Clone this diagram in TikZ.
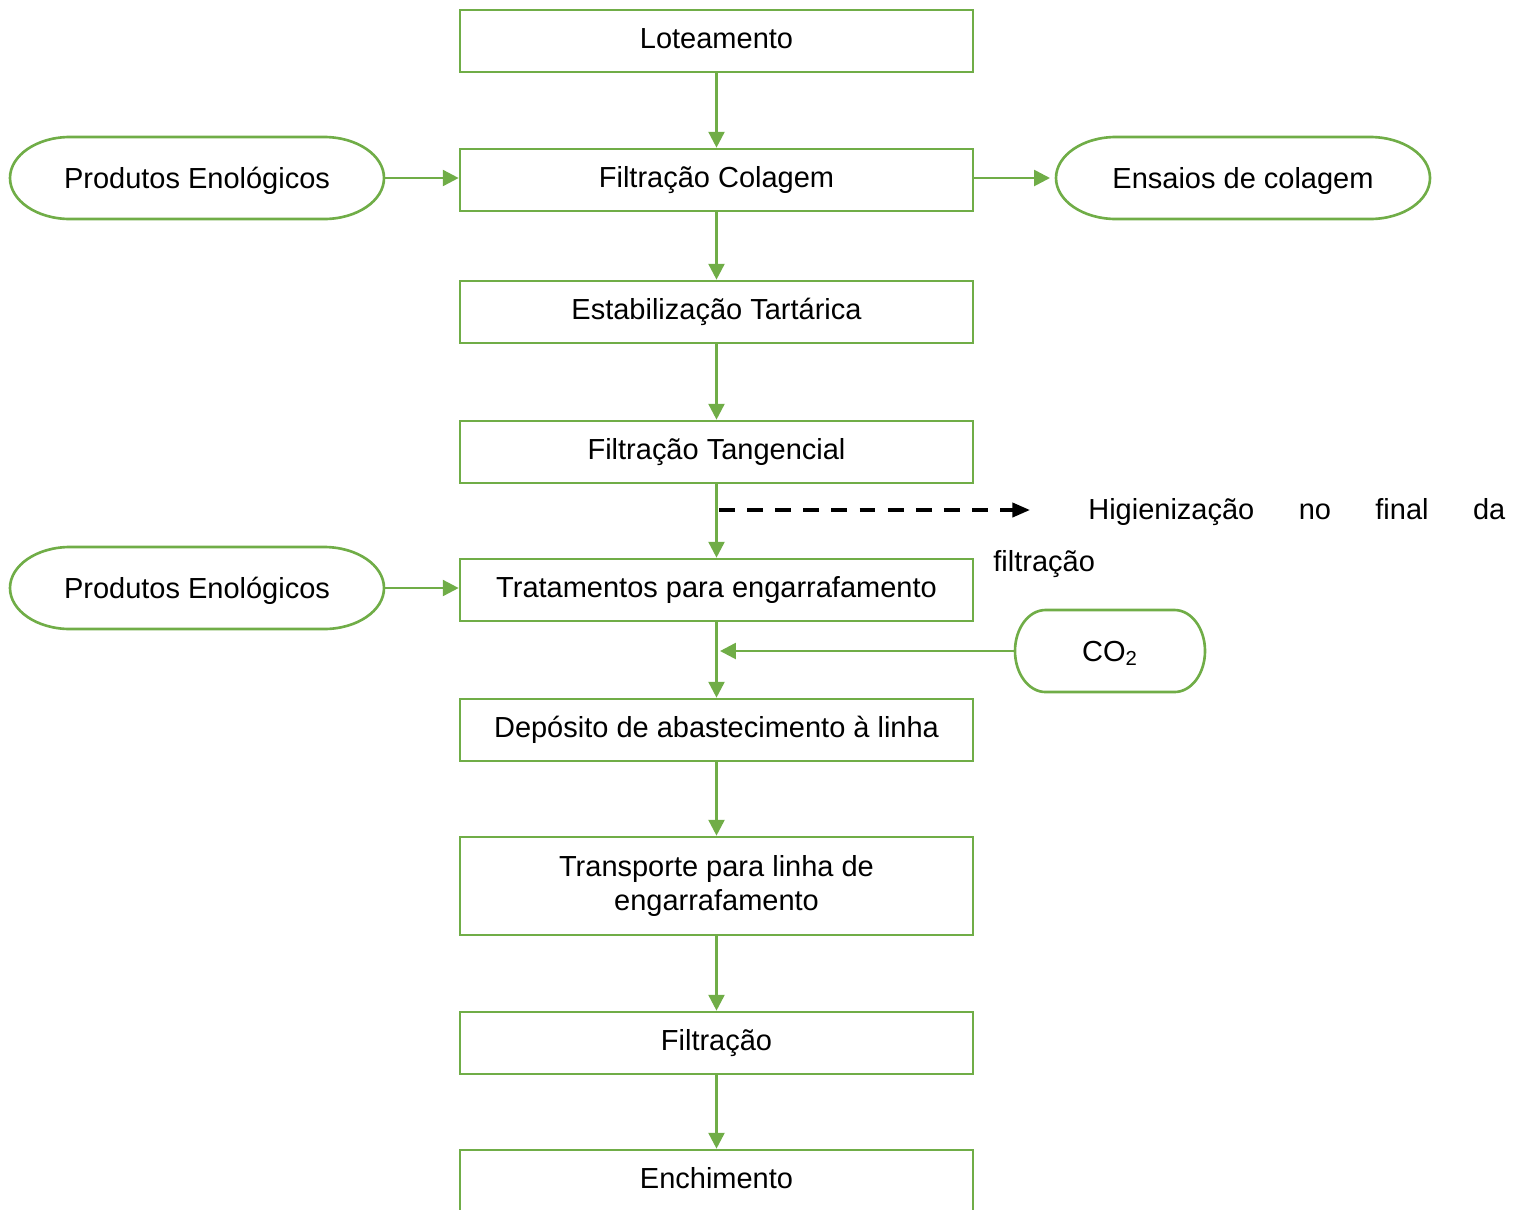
\documentclass[tikz,border=0pt]{standalone}
\usepackage{fontspec}
\setmainfont{Liberation Sans}
\usetikzlibrary{arrows.meta, positioning}
\definecolor{leafgreen}{HTML}{70AD47}

\begin{document}
\begin{tikzpicture}[>=Stealth,
    every node/.style={font=\fontsize{16.5}{19.3}\selectfont},
    procbox/.style={draw=leafgreen, line width=1.5pt, minimum width=10.26cm, minimum height=1.24cm, inner sep=0pt, text height=12pt, text depth=3.8pt},
    inbox/.style={minimum width=7.48cm, minimum height=1.64cm, inner sep=0pt, outer sep=0pt, text height=13.7pt, text depth=2.1pt},
    ovalline/.style={draw=leafgreen, line width=1.5pt, line join=round},
    flow/.style={draw=leafgreen, line width=1.5pt, -{Triangle[length=9pt, width=9pt]}}]
    \useasboundingbox (0,0) rectangle (30.52,-24.18);

    % main chain
    \node[procbox] (lote) at (14.33,-0.82) {Loteamento};
    \node[procbox] (colag) at (14.33,-3.6) {Filtração Colagem};
    \node[procbox] (estab) at (14.33,-6.24) {Estabilização Tartárica};
    \node[procbox] (tang) at (14.33,-9.04) {Filtração Tangencial};
    \node[procbox] (trat) at (14.33,-11.8) {Tratamentos para engarrafamento};
    \node[procbox] (depo) at (14.33,-14.6) {Depósito de abastecimento à linha};
    \node[draw=leafgreen, line width=1.5pt, minimum width=10.26cm, minimum height=1.96cm, inner sep=0pt, align=center] (transp) at (14.33,-17.72) {Transporte para linha de\\engarrafamento};
    \node[procbox] (filt) at (14.33,-20.86) {Filtração};
    \node[procbox] (ench) at (14.33,-23.62) {Enchimento};

    % side inputs and outputs
    \node[inbox] (enol1) at (3.94,-3.56) {Produtos Enológicos};
    \node[inbox] (ensaios) at (24.86,-3.56) {Ensaios de colagem};
    \node[inbox] (enol2) at (3.94,-11.76) {Produtos Enológicos};
    \node[inbox, minimum width=3.8cm] (co2) at (22.2,-13.02) {CO\textsubscript{2}};
    \foreach \n/\r in {enol1/1.2, ensaios/1.2, enol2/1.2, co2/0.61}
      \draw[ovalline] ([xshift=\r cm]\n.north west) -- ([xshift=-\r cm]\n.north east)
        arc[start angle=90, end angle=-90, x radius=\r cm, y radius=0.82cm]
        -- ([xshift=\r cm]\n.south west)
        arc[start angle=270, end angle=90, x radius=\r cm, y radius=0.82cm] -- cycle;

    \node[anchor=base west, inner sep=0pt, text width=10.3cm, align=left, font=\fontsize{16.5}{29.3}\selectfont] (hig) at (19.86,-10.39) {\hspace*{1.9cm}\makebox[8.34cm][l]{Higienização\hfill no\hfill final\hfill da}\\filtração};

    \draw[flow] (lote) -- (colag);
    \draw[flow] (colag) -- (estab);
    \draw[flow] (estab) -- (tang);
    \draw[flow] (tang) -- (trat);
    \draw[flow] (trat) -- (depo);
    \draw[flow] (depo) -- (transp);
    \draw[flow] (transp) -- (filt);
    \draw[flow] (filt) -- (ench);

    \draw[flow] (enol1.east) -- (colag.west |- enol1.east);
    \draw[flow, shorten >=0.12cm] (ensaios.west -| colag.east) -- (ensaios.west);
    \draw[flow] (enol2.east) -- (trat.west |- enol2.east);

    \coordinate (co2in) at (14.4,-13.02);
    \draw[flow] (co2) -- (co2in);

    \coordinate (higfrom) at (14.38,-10.2);
    \coordinate (higto) at (20.6,-10.2);
    \draw[line width=2pt, dash pattern=on 9pt off 7pt, -{Triangle[length=10pt, width=8pt]}] (higfrom) -- (higto);
\end{tikzpicture}
\end{document}
